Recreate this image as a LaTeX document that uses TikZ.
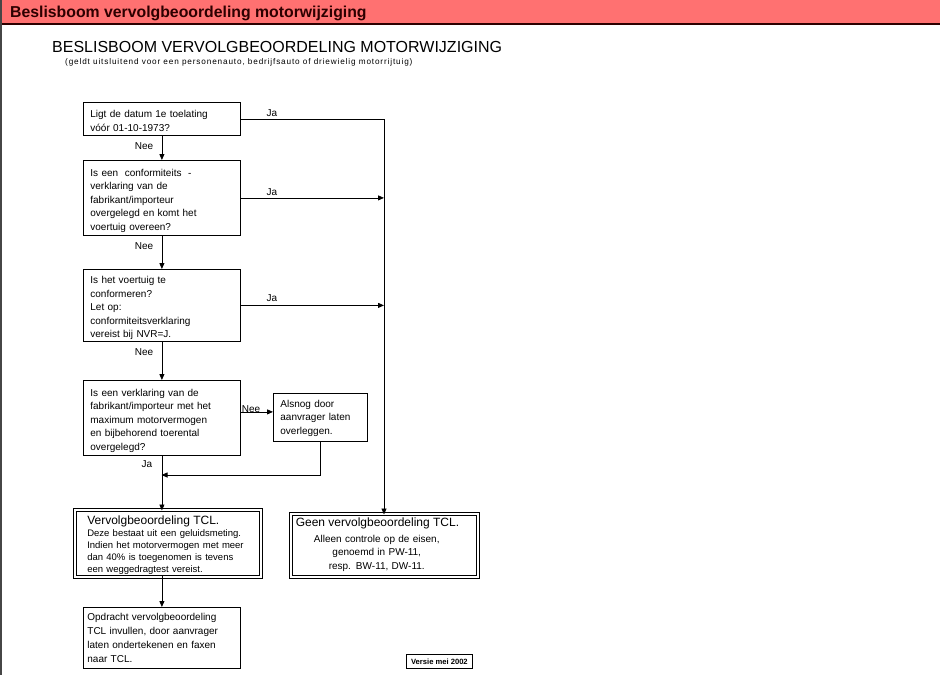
\documentclass[tikz,border=0pt]{standalone}
\usepackage{fontspec}
\setmainfont{Liberation Sans}
\newfontfamily\wijd[LetterSpace=10.5]{Liberation Sans}
\usepackage{xcolor}
\usetikzlibrary{arrows.meta}
\definecolor{kopkleur}{RGB}{255,113,113}
\definecolor{koplijn}{RGB}{45,0,0}
\newcommand{\fs}[2]{\fontsize{#1}{#2}\selectfont}
\newcommand{\op}[1]{\rule{0pt}{#1pt}}

\begin{document}
\begin{tikzpicture}[line cap=butt,line join=miter,>={Triangle[length=6pt,width=5pt]},x=1pt,y=-1pt,
    vraag/.style={draw,line width=0.8pt,inner xsep=7pt,inner ysep=0pt,align=left,anchor=north west,
        minimum width=157,text width=143pt,font=\fs{10}{13.5}},
    besluit/.style={draw,line width=1.5pt,inner ysep=0pt,align=left,anchor=north west},
    lbl/.style={inner sep=0pt,font=\fs{10}{12}},
    lijn/.style={line width=0.8pt}]
    \useasboundingbox (0,0) rectangle (940,675);
    % kop
    \fill[kopkleur] (0,0) rectangle (940,23);
    \draw[koplijn,line width=2pt] (0,24) -- (940,24);
    \draw[gray!55!black,line width=1.5pt] (0.75,0) -- (0.75,675);
    \node[anchor=base west,inner sep=0pt,font=\bfseries\fs{15.8}{18},text=koplijn] (kop) at (10,17) {Beslisboom vervolgbeoordeling motorwijziging};
    \node[anchor=base west,inner sep=0pt,font=\fs{16}{18}] (titel) at (52,52) {BESLISBOOM VERVOLGBEOORDELING MOTORWIJZIGING};
    \node[anchor=base west,inner sep=0pt,font=\wijd\fs{8.2}{10}] (sub) at (65,64) {(geldt uitsluitend voor een personenauto, bedrijfsauto of driewielig motorrijtuig)};
    % vragen
    \node[vraag,minimum height=33] (b1) at (83,102) {\op{11}Ligt de datum 1e toelating\\vóór 01-10-1973?};
    \node[vraag,minimum height=75] (b2) at (83,160) {\op{13}Is een~ conformiteits~ -\\verklaring van de\\fabrikant/importeur\\overgelegd en komt het\\voertuig overeen?};
    \node[vraag,minimum height=72] (b3) at (83,269) {\op{13}Is het voertuig te\\conformeren?\\Let op:\\conformiteitsverklaring\\vereist bij NVR=J.};
    \node[vraag,minimum height=75] (b4) at (83,380) {\op{13}Is een verklaring van de\\fabrikant/importeur met het\\maximum motorvermogen\\en bijbehorend toerental\\overgelegd?};
    \node[vraag,minimum width=94,text width=80pt,minimum height=48] (zij) at (273,393) {\op{9}Alsnog door\\aanvrager laten\\overleggen.};
    \node[vraag,inner xsep=4pt,text width=149pt,minimum height=61,font=\fs{10}{14}] (opdr) at (83,607) {Opdracht vervolgbeoordeling\\TCL invullen, door aanvrager\\laten ondertekenen en faxen\\naar TCL.};
    % besluiten
    \node[besluit,inner xsep=11pt,text width=161pt,minimum width=183,minimum height=64] (tcl) at (75.5,510.5)
        {{\fs{12}{14}\op{12}Vervolgbeoordeling TCL.}\\[1pt]
         {\fs{9.5}{11.6}Deze bestaat uit een geluidsmeting.\\Indien het motorvermogen met meer\\dan 40\% is toegenomen is tevens\\een weggedragtest vereist.}};
    \node[besluit,inner xsep=3.5pt,text width=177pt,minimum width=184,minimum height=60] (geen) at (291.5,514.5)
        {{\fs{12}{14}Geen vervolgbeoordeling TCL.}\\[3pt]
         \makebox[162pt]{\fs{10}{13.5}\begin{tabular}{@{}c@{}}Alleen controle op de eisen,\\genoemd in PW-11,\\resp. BW-11, DW-11.\end{tabular}}};
    \draw[line width=0.6pt] ([shift={(-2.5,-2.5)}]tcl.north west) rectangle ([shift={(2.5,2.5)}]tcl.south east);
    \draw[line width=0.6pt] ([shift={(-2.5,-2.5)}]geen.north west) rectangle ([shift={(2.5,2.5)}]geen.south east);
    \node[draw,line width=0.8pt,anchor=north west,inner sep=0pt,minimum width=66,minimum height=14,font=\bfseries\fs{7.6}{9}] (versie) at (406,654) {Versie mei 2002};
    % verbindingen
    \coordinate (rail) at (384,0);
    \coordinate (samen) at (161.5,475);
    \draw[lijn,->] (b1.east) -- (b1.east -| rail) -- (rail |- geen.north);
    \draw[lijn,->] (b2.east) -- (b2.east -| rail);
    \draw[lijn,->] (b3.east) -- (b3.east -| rail);
    \draw[lijn,->] (b1) -- (b2);
    \draw[lijn,->] (b2) -- (b3);
    \draw[lijn,->] (b3) -- (b4);
    \draw[lijn,->] ([yshift=6pt]b4.east) coordinate (nee) -- (nee -| zij.west);
    \draw[lijn,->] (zij.south) |- (samen);
    \draw[lijn,->] (b4.south) -- (b4.south |- tcl.north);
    \draw[lijn,->] (opdr.north |- tcl.south) -- (opdr.north);
    % labels
    \node[lbl] (ja1) at (272,113) {Ja};
    \node[lbl] (ja2) at (272,192) {Ja};
    \node[lbl] (ja3) at (272,298) {Ja};
    \node[lbl] (nee1) at (144,146) {Nee};
    \node[lbl] (nee2) at (144,246) {Nee};
    \node[lbl] (nee3) at (144,352) {Nee};
    \node[lbl] (nee4) at (251,409) {Nee};
    \node[lbl] (ja4) at (147,464) {Ja};
\end{tikzpicture}
\end{document}
